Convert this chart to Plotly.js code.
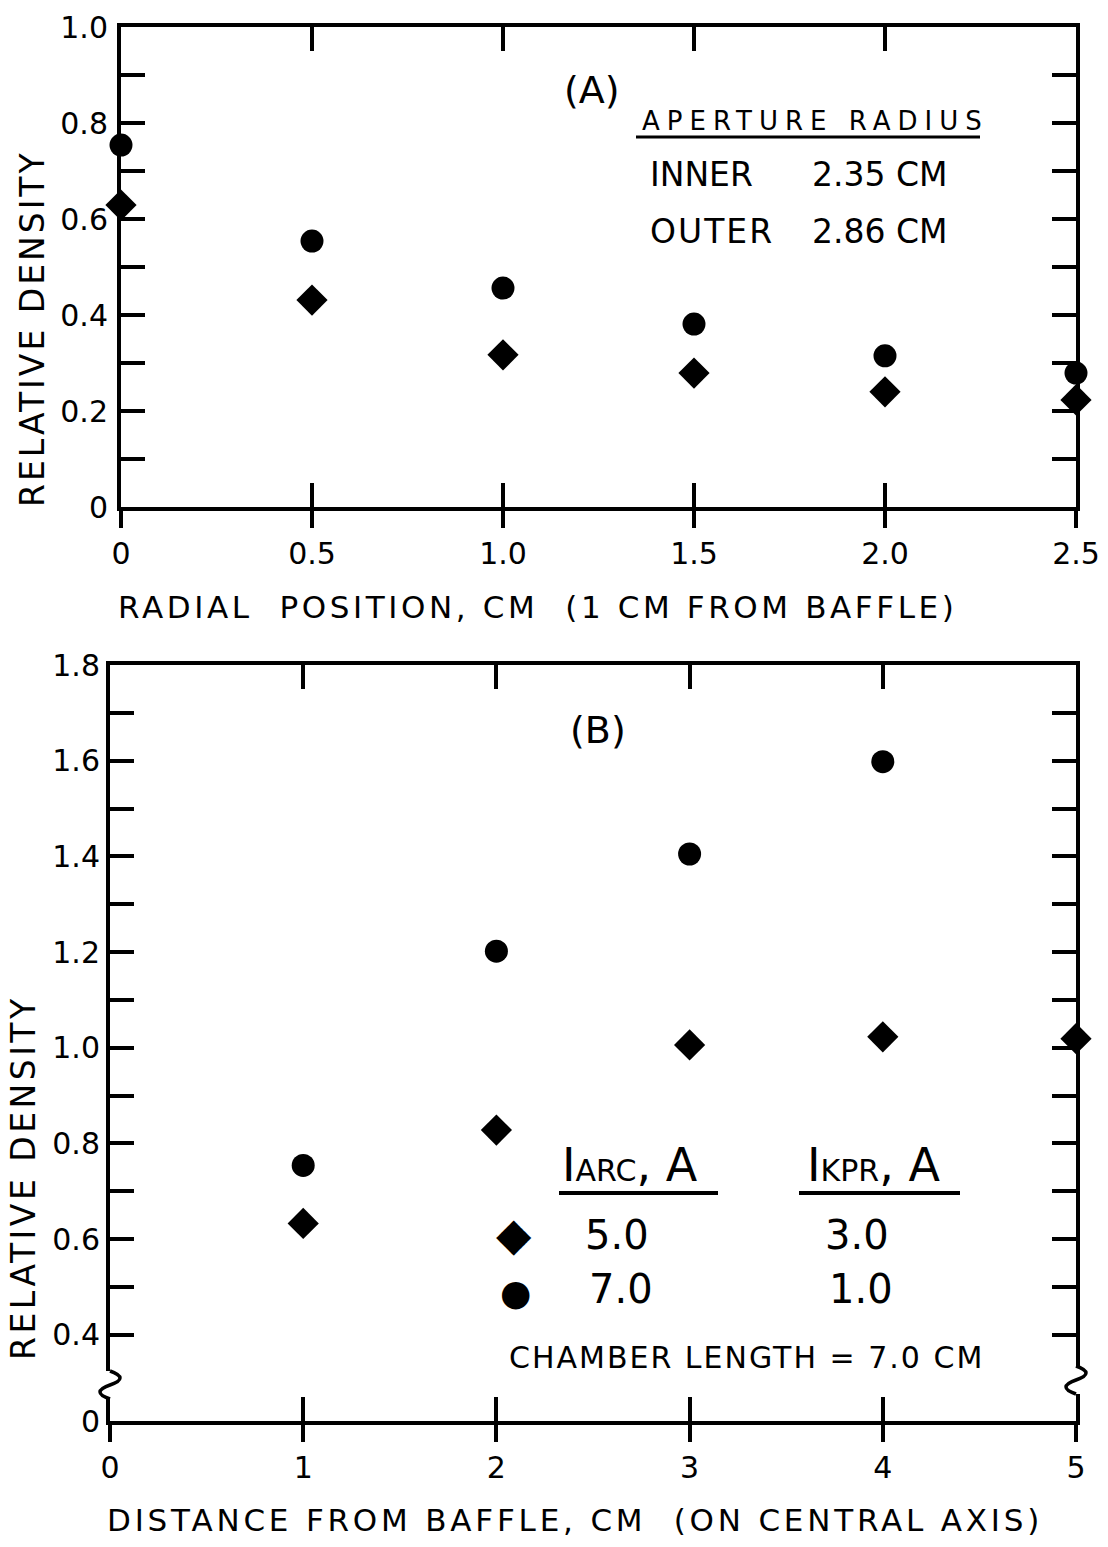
<!DOCTYPE html>
<html>
<head>
<meta charset="utf-8">
<script src="https://cdn.plot.ly/plotly-3.0.1.min.js"></script>
<style>
  html, body { margin: 0; padding: 0; background: #fff; }
  #chart { width: 1108px; height: 1547px; }
</style>
</head>
<body>
<div id="chart"></div>
<script>
// ---------------- DATA ----------------
// Panel (A): radial position, 1 cm from baffle
const aRadialPos   = [0, 0.5, 1.0, 1.5, 2.0, 2.5];
const aCircle      = [0.754, 0.554, 0.456, 0.381, 0.315, 0.279];   // Iarc 7.0 A, Ikpr 1.0 A
const aDiamond     = [0.629, 0.431, 0.317, 0.279, 0.240, 0.223];   // Iarc 5.0 A, Ikpr 3.0 A

// Panel (B): distance from baffle, on central axis
const bDistCircle  = [1, 2, 3, 4];
const bCircle      = [0.754, 1.202, 1.405, 1.598];
const bDistDiamond = [1, 2, 3, 4, 5];
const bDiamond     = [0.633, 0.828, 1.006, 1.023, 1.019];

// Tick labels
const aXTickVals  = [0, 0.5, 1.0, 1.5, 2.0, 2.5];
const aXTickText  = ["0", "0.5", "1.0", "1.5", "2.0", "2.5"];
const aYTickVals  = [0, 0.1, 0.2, 0.3, 0.4, 0.5, 0.6, 0.7, 0.8, 0.9, 1.0];
const aYTickText  = ["0", "", "0.2", "", "0.4", "", "0.6", "", "0.8", "", "1.0"];
const bXTickVals  = [0, 1, 2, 3, 4, 5];
const bXTickText  = ["0", "1", "2", "3", "4", "5"];
// broken axis: the "0" label sits below the break
const BREAK_ZERO  = 0.22;
const bYTickVals  = [BREAK_ZERO, 0.4, 0.5, 0.6, 0.7, 0.8, 0.9, 1.0, 1.1, 1.2, 1.3, 1.4, 1.5, 1.6, 1.7, 1.8];
const bYTickText  = ["0", "0.4", "", "0.6", "", "0.8", "", "1.0", "", "1.2", "", "1.4", "", "1.6", "", "1.8"];

// Legend table text
const legendArc  = ["5.0", "7.0"];
const legendKpr  = ["3.0", "1.0"];

// ---------------- LAYOUT HELPERS ----------------
const W = 1108, H = 1547;
const px = x => x / W;
const py = y => 1 - y / H;
const FONT = "DejaVu Sans";
const ls = (t, s) => `<span style="letter-spacing:${s}px">${t}</span>`;

const axisCommon = {
  showline: true, linewidth: 4, linecolor: "#000",
  mirror: "ticks", ticks: "inside", ticklen: 24, tickwidth: 4, tickcolor: "#000",
  showgrid: false, zeroline: false, automargin: false, fixedrange: true,
  tickfont: { family: FONT, size: 30, color: "#000" }, tickmode: "array",
  layer: "below traces"
};
const overlayTicks = {
  ticks: "outside", ticklen: 20, tickwidth: 4, tickcolor: "#000",
  showline: false, showticklabels: false, showgrid: false, zeroline: false,
  tickmode: "array", fixedrange: true, side: "bottom", layer: "below traces"
};

const mk = (sym, size) => ({ symbol: sym, size: size, color: "#000", line: { width: 0 } });

const traces = [
  { x: aRadialPos, y: aCircle, xaxis: "x", yaxis: "y", mode: "markers", name: "7.0 / 1.0",
    marker: mk("circle", 23), cliponaxis: false, hoverinfo: "x+y" },
  { x: aRadialPos, y: aDiamond, xaxis: "x", yaxis: "y", mode: "markers", name: "5.0 / 3.0",
    marker: mk("diamond", 24), cliponaxis: false, hoverinfo: "x+y" },
  { x: bDistCircle, y: bCircle, xaxis: "x2", yaxis: "y2", mode: "markers", name: "7.0 / 1.0",
    marker: mk("circle", 23), cliponaxis: false, hoverinfo: "x+y" },
  { x: bDistDiamond, y: bDiamond, xaxis: "x2", yaxis: "y2", mode: "markers", name: "5.0 / 3.0",
    marker: mk("diamond", 24), cliponaxis: false, hoverinfo: "x+y" },
  // empty carriers so the overlaid tick-only axes get drawn
  { x: [], y: [], xaxis: "x3", yaxis: "y", mode: "markers", hoverinfo: "skip", showlegend: false },
  { x: [], y: [], xaxis: "x4", yaxis: "y2", mode: "markers", hoverinfo: "skip", showlegend: false }
];

const ann = (text, x, y, size, opts) => Object.assign({
  text: text, x: px(x), y: py(y), xref: "paper", yref: "paper",
  showarrow: false, xanchor: "center", yanchor: "middle",
  font: { family: FONT, size: size, color: "#000" }
}, opts || {});

const annotations = [
  // Panel A
  ann("(A)", 592, 90, 38),
  ann(ls("APERTURE RADIUS", 7), 640, 121, 26, { xanchor: "left" }),
  ann("INNER", 648, 174, 33, { xanchor: "left" }),
  ann("2.35 CM", 810, 174, 33, { xanchor: "left" }),
  ann(ls("OUTER", 2), 648, 231, 33, { xanchor: "left" }),
  ann("2.86 CM", 810, 231, 33, { xanchor: "left" }),
  ann(ls("RADIAL  POSITION, CM  (1 CM FROM BAFFLE)", 3.6), 537, 607, 31),
  ann(ls("RELATIVE DENSITY", 3), 32, 329, 33, { textangle: -90 }),
  // Panel B
  ann("(B)", 598, 730, 38),
  ann(ls("DISTANCE FROM BAFFLE, CM  (ON CENTRAL AXIS)", 3.8), 575, 1520, 31),
  ann(ls("RELATIVE DENSITY", 3.5), 23, 1178, 33, { textangle: -90 }),
  ann("I<span style='font-size:30px'>ARC</span>, A", 560, 1165, 46, { xanchor: "left" }),
  ann("I<span style='font-size:30px'>KPR</span>, A", 805, 1165, 46, { xanchor: "left" }),
  ann("\u25C6", 514, 1234, 46),
  ann("\u25CF", 515, 1292, 36),
  ann(legendArc[0], 617, 1235, 40),
  ann(legendKpr[0], 857, 1235, 40),
  ann(legendArc[1], 621, 1289, 40),
  ann(legendKpr[1], 861, 1289, 40),
  ann(ls("CHAMBER LENGTH = 7.0 CM", 2), 507, 1357, 30, { xanchor: "left" })
];

const line = (x0, y0, x1, y1, w) => ({
  type: "line", xref: "paper", yref: "paper",
  x0: px(x0), y0: py(y0), x1: px(x1), y1: py(y1),
  line: { color: "#000", width: w }, layer: "above"
});

// axis-break squiggle (paper coordinates, so it is not clipped by the plot area)
const breakCover = (cx, y0, y1) => ({
  type: "rect", xref: "paper", yref: "paper",
  x0: px(cx - 5), x1: px(cx + 5), y0: py(y1), y1: py(y0),
  fillcolor: "#fff", line: { width: 0 }, layer: "above"
});
const squiggle = (cx, y0, amp) => {
  const P = (x, y) => `${px(x)},${py(y)}`;
  return {
    type: "path", xref: "paper", yref: "paper", layer: "above",
    path: `M${P(cx, y0)} Q${P(cx + amp, y0 + 7)} ${P(cx, y0 + 14)} Q${P(cx - amp, y0 + 21)} ${P(cx, y0 + 28)}`,
    line: { color: "#000", width: 3.5 }
  };
};

const shapes = [
  line(636, 137, 980, 137, 3),
  line(559, 1193, 718, 1193, 4),
  line(799, 1193, 960, 1193, 4),
  breakCover(110, 1371, 1399),
  squiggle(110, 1371, 20),
  breakCover(1076, 1366, 1394),
  squiggle(1076, 1366, 20)
];

const layout = {
  width: W, height: H,
  margin: { l: 0, r: 0, t: 0, b: 0, pad: 0 },
  paper_bgcolor: "#fff", plot_bgcolor: "#fff",
  showlegend: false,
  font: { family: FONT, color: "#000" },
  xaxis: Object.assign({}, axisCommon, {
    domain: [px(121), px(1076)], anchor: "y", range: [0, 2.5],
    tickvals: aXTickVals, ticktext: aXTickText, ticklabelstandoff: 17
  }),
  yaxis: Object.assign({}, axisCommon, {
    domain: [py(507), py(27)], anchor: "x", range: [0, 1],
    tickvals: aYTickVals, ticktext: aYTickText, ticklabelstandoff: 3
  }),
  xaxis3: Object.assign({}, overlayTicks, {
    overlaying: "x", anchor: "y", range: [0, 2.5], tickvals: aXTickVals
  }),
  xaxis2: Object.assign({}, axisCommon, {
    domain: [px(110), px(1076)], anchor: "y2", range: [0, 5],
    tickvals: bXTickVals, ticktext: bXTickText, ticklabelstandoff: 17
  }),
  yaxis2: Object.assign({}, axisCommon, {
    domain: [py(1421), py(665)], anchor: "x2", range: [BREAK_ZERO, 1.8],
    tickvals: bYTickVals, ticktext: bYTickText, ticklabelstandoff: 0
  }),
  xaxis4: Object.assign({}, overlayTicks, {
    overlaying: "x2", anchor: "y2", range: [0, 5], tickvals: bXTickVals
  }),
  annotations: annotations,
  shapes: shapes
};

Plotly.newPlot("chart", traces, layout, { displayModeBar: false, staticPlot: true });
</script>
</body>
</html>
